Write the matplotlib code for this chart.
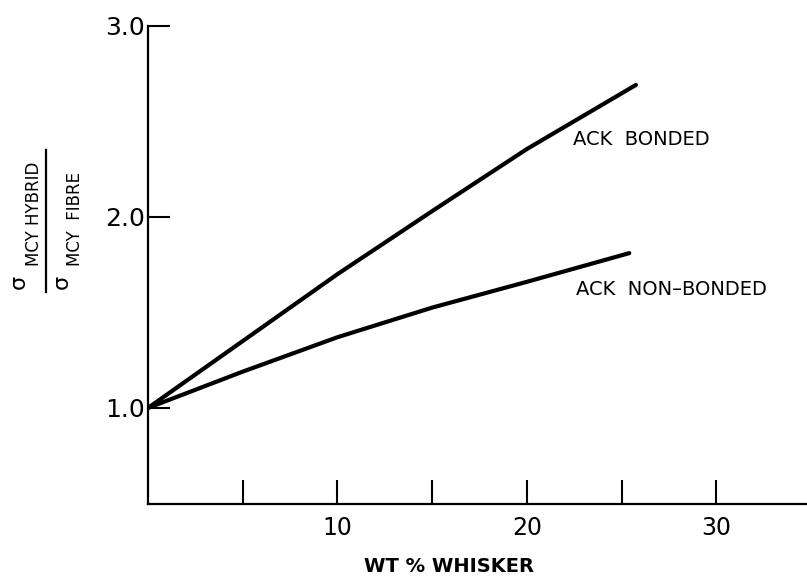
import matplotlib
matplotlib.use("Agg")
import matplotlib.pyplot as plt
from matplotlib.lines import Line2D

# Данные
WT_BONDED = [0, 5, 10, 15, 20, 25.75]
RATIO_BONDED = [1.0, 1.35, 1.70, 2.03, 2.355, 2.69]
WT_NONBONDED = [0, 5, 10, 15, 20, 25.4]
RATIO_NONBONDED = [1.0, 1.19, 1.37, 1.525, 1.66, 1.81]

X_TICKS = [5, 10, 15, 20, 25, 30]
X_TICK_LABELS = ["", "10", "", "20", "", "30"]
Y_TICKS = [1.0, 2.0, 3.0]
Y_TICK_LABELS = ["1.0", "2.0", "3.0"]

LABEL_BONDED = "ACK  BONDED"
LABEL_NONBONDED = "ACK  NON\u2013BONDED"

W, H = 807, 579


def fx(px):
    return px / W


def fy(py):
    return 1 - py / H


plt.rcParams["font.family"] = ["DejaVu Sans"]

fig = plt.figure(figsize=(W / 100, H / 100), dpi=100)
ax = fig.add_axes([fx(148), fy(503.5), (W - 148) / W, (503.5 - 25.7) / H])

ax.plot(WT_BONDED, RATIO_BONDED, color="black", linewidth=3,
        solid_capstyle="round", solid_joinstyle="round")
ax.plot(WT_NONBONDED, RATIO_NONBONDED, color="black", linewidth=3,
        solid_capstyle="round", solid_joinstyle="round")

ax.set_xlim(0, 34.78)
ax.set_ylim(0.5, 3.0)

ax.spines["top"].set_visible(False)
ax.spines["right"].set_visible(False)
for side in ("left", "bottom"):
    ax.spines[side].set_linewidth(1.6)

ax.set_xticks(X_TICKS)
ax.set_xticklabels(X_TICK_LABELS)
ax.set_yticks(Y_TICKS)
ax.set_yticklabels(Y_TICK_LABELS)
ax.tick_params(axis="x", direction="in", length=17, width=1.5,
               labelsize=17, pad=9)
ax.tick_params(axis="y", direction="in", length=16, width=1.5,
               labelsize=18, pad=2)

ax.text(22.43, 2.407, LABEL_BONDED, fontsize=14, va="center", ha="left")
ax.text(22.59, 1.62, LABEL_NONBONDED, fontsize=14, va="center", ha="left")

ax.set_xlabel("WT % WHISKER", fontsize=14, fontweight="bold")
ax.xaxis.set_label_coords((449 - 148) / 659, (503.5 - 557) / 477.8)
ax.xaxis.label.set_va("top")

# Подпись оси Y — дробь из двух сигм, повёрнутая на 90°
fig.text(fx(19), fy(282), "\u03c3", fontsize=16, rotation=90,
         ha="center", va="center")
fig.text(fx(34), fy(213.5), "MCY HYBRID", fontsize=12, rotation=90,
         ha="center", va="center")
fig.text(fx(62), fy(282), "\u03c3", fontsize=16, rotation=90,
         ha="center", va="center")
fig.text(fx(75), fy(219.5), "MCY  FIBRE", fontsize=12, rotation=90,
         ha="center", va="center")
fig.add_artist(Line2D([fx(45.7), fx(45.7)], [fy(150), fy(292)],
                      color="black", linewidth=1.6,
                      transform=fig.transFigure))

fig.savefig("out.png", dpi=100)
